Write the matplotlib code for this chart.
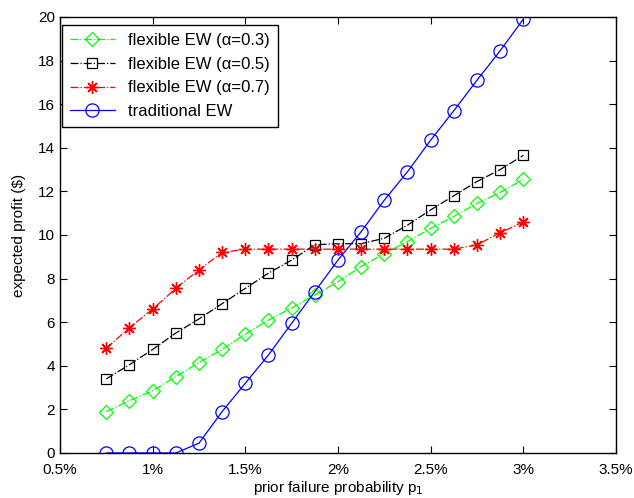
import numpy as np
import matplotlib.pyplot as plt
from matplotlib.ticker import FuncFormatter

plt.rcParams['font.family'] = ['Liberation Sans', 'DejaVu Sans']

p1 = [0.75, 0.875, 1.0, 1.125, 1.25, 1.375, 1.5, 1.625, 1.75, 1.875,
      2.0, 2.125, 2.25, 2.375, 2.5, 2.625, 2.75, 2.875, 3.0]

flex03 = [1.9, 2.4, 2.85, 3.5, 4.15, 4.75, 5.45, 6.1, 6.65, 7.25,
          7.85, 8.55, 9.15, 9.7, 10.3, 10.85, 11.45, 11.95, 12.55]
flex05 = [3.4, 4.05, 4.75, 5.5, 6.15, 6.85, 7.55, 8.25, 8.85, 9.55,
          9.6, 9.6, 9.85, 10.45, 11.15, 11.8, 12.45, 13.0, 13.65]
flex07 = [4.8, 5.75, 6.6, 7.55, 8.4, 9.2, 9.35, 9.35, 9.35, 9.35,
          9.35, 9.35, 9.35, 9.35, 9.35, 9.35, 9.55, 10.1, 10.6]
trad = [0, 0, 0, 0, 0.45, 1.9, 3.2, 4.5, 5.95, 7.4,
        8.85, 10.15, 11.6, 12.9, 14.35, 15.7, 17.1, 18.45, 19.9]

fig = plt.figure(figsize=(6.34, 4.98), dpi=100)
ax = fig.add_axes([0.0946, 0.0904, 0.877, 0.8755])

ax.plot(p1, flex03, '-.', color='#00ff00', marker='D', markersize=7.5,
        markerfacecolor='none', markeredgewidth=0.9, lw=0.9, label='flexible EW (α=0.3)')
ax.plot(p1, flex05, '-.', color='black', marker='s', markersize=7.5,
        markerfacecolor='none', markeredgewidth=0.9, lw=0.9, label='flexible EW (α=0.5)')
# matlab style asterisk: 8 spokes
ax.plot(p1, flex07, '-.', color='red', marker=(8, 2, 0), markersize=9,
        markeredgewidth=1.0, lw=0.9, label='flexible EW (α=0.7)')
ax.plot(p1, trad, '-', color='blue', marker='o', markersize=9.5,
        markerfacecolor='none', markeredgewidth=0.9, lw=0.9, label='traditional EW')

ax.set_xlim(0.5, 3.5)
ax.set_ylim(0, 20)
ax.set_xticks(np.arange(0.5, 3.51, 0.5))
ax.set_yticks(np.arange(0, 21, 2))
ax.xaxis.set_major_formatter(FuncFormatter(lambda v, pos: '%g%%' % v))
ax.tick_params(direction='in', top=True, right=True, labelsize=11, length=5)
ax.tick_params(axis='x', pad=7.5)
for s in ax.spines.values():
    s.set_linewidth(1.0)

ax.set_xlabel('prior failure probability p$_1$', fontsize=11, labelpad=1)
ax.set_ylabel('expected profit ($)', fontsize=11, labelpad=9)

leg = ax.legend(loc='upper left', bbox_to_anchor=(0.003, 0.982), fontsize=12,
                fancybox=False, edgecolor='black', framealpha=1,
                handlelength=2.7, borderpad=0.5, labelspacing=0.52, borderaxespad=0)
leg.get_frame().set_linewidth(1.0)

fig.savefig('out.png', dpi=100)
